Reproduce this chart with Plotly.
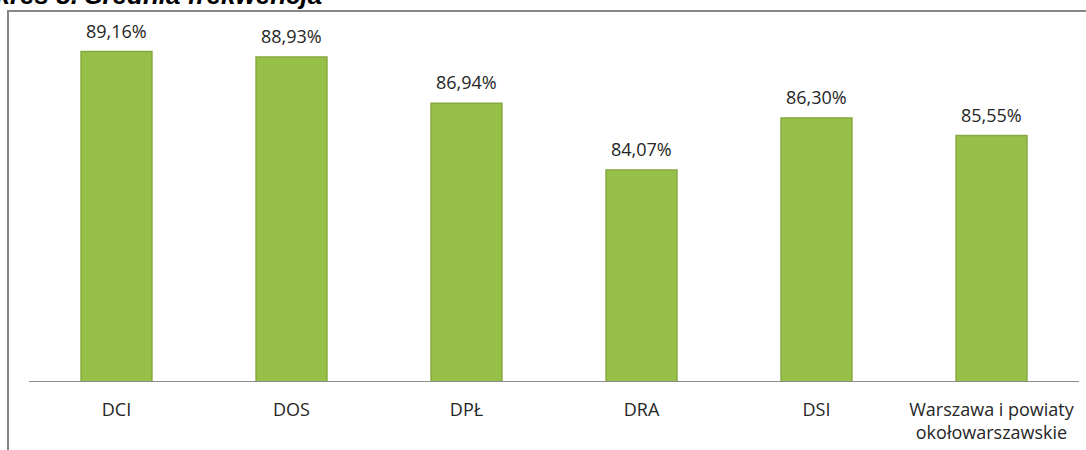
import plotly.graph_objects as go

# ---------------------------------------------------------------------------
# Data
# ---------------------------------------------------------------------------

categories = ["DCI", "DOS", "DPŁ", "DRA", "DSI", "Warszawa i powiaty<br>okołowarszawskie"]
turnout = [89.16, 88.93, 86.94, 84.07, 86.30, 85.55]
labels = ["89,16%", "88,93%", "86,94%", "84,07%", "86,30%", "85,55%"]

BAR_GREEN = "#97c049"
BAR_EDGE = "#86a83e"
AXIS_GRAY = "#8c8c8c"
BORDER_GRAY = "#868686"
TEXT = "#262626"
FONT = "Open Sans, sans-serif"

# plot area in screen pixels (page body margin removed below)
PL, PR, PT, PB = 29, 1079, 32, 381


def _px_x(px):
    return (px - PL) / (PR - PL)


def _px_y(py):
    return (PB - py) / (PB - PT)


fig = go.Figure()

fig.add_trace(go.Bar(
    x=categories,
    y=turnout,
    marker=dict(color=BAR_GREEN, line=dict(color=BAR_EDGE, width=1.5)),
    width=0.405,
    showlegend=False,
    hoverinfo="skip",
))

# value labels above bars
for cat, val, lab in zip(categories, turnout, labels):
    fig.add_annotation(
        x=cat, y=val, text=lab,
        showarrow=False, yanchor="bottom", yshift=7,
        font=dict(size=18, color=TEXT, family=FONT),
    )

# title, cut off at the top of the picture as in the source
fig.add_annotation(
    x=_px_x(324), y=_px_y(12), xref="paper", yref="paper",
    text="<b><i>Wykres 8. Średnia frekwencja</i></b>",
    showarrow=False, xanchor="right", yanchor="bottom",
    font=dict(size=26, color="#000000", family="Liberation Sans, Arial, sans-serif"),
)

fig.update_layout(
    width=1086,
    height=450,
    margin=dict(l=PL, r=1086 - PR, t=PT, b=450 - PB),
    paper_bgcolor="white",
    plot_bgcolor="white",
    xaxis=dict(
        showgrid=False,
        zeroline=False,
        showline=True,
        linecolor=AXIS_GRAY,
        linewidth=1,
        ticks="outside",
        ticklen=12,
        tickcolor="rgba(0,0,0,0)",
        tickfont=dict(size=18, color=TEXT, family=FONT),
        automargin=False,
    ),
    yaxis=dict(
        range=[75, 90],
        visible=False,
        showgrid=False,
        zeroline=False,
    ),
    shapes=[
        dict(type="rect", xref="paper", yref="paper",
             x0=_px_x(8), x1=_px_x(1110), y0=_px_y(480), y1=_px_y(11),
             line=dict(color=BORDER_GRAY, width=2), layer="below"),
    ],
)

fig.write_html(
    "out.html",
    config={"displayModeBar": False},
    post_script="document.body.style.margin = '0px';",
)
